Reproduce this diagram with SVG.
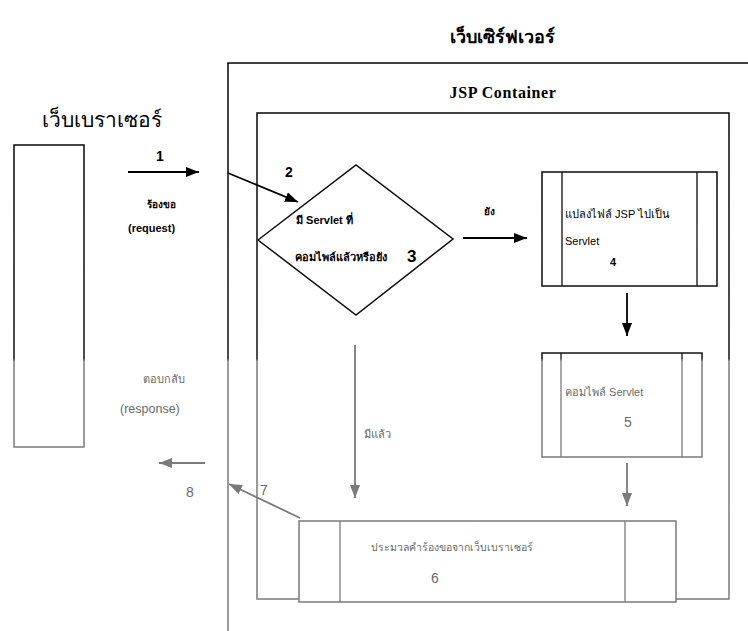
<svg xmlns="http://www.w3.org/2000/svg" width="748" height="631" viewBox="0 0 748 631">
<defs>
<linearGradient id="ink" gradientUnits="userSpaceOnUse" x1="0" y1="0" x2="0" y2="631">
<stop offset="0" stop-color="#000"/>
<stop offset="0.568" stop-color="#111"/>
<stop offset="0.573" stop-color="#7a7a7a"/>
<stop offset="1" stop-color="#7a7a7a"/>
</linearGradient>
<marker id="ah" markerUnits="userSpaceOnUse" markerWidth="14" markerHeight="12" refX="13" refY="5" orient="auto">
<path d="M0,0 L13,5 L0,10 z" fill="#000"/>
</marker>
<marker id="ahg" markerUnits="userSpaceOnUse" markerWidth="14" markerHeight="12" refX="13" refY="5" orient="auto">
<path d="M0,0 L13,5 L0,10 z" fill="#7a7a7a"/>
</marker>
</defs>
<style>
.box{fill:none;stroke:url(#ink);stroke-width:1.5}
.ln{fill:none;stroke:url(#ink);stroke-width:1.3}
.ar{fill:none;stroke:#000;stroke-width:1.8;marker-end:url(#ah)}
.arg{fill:none;stroke:#7a7a7a;stroke-width:1.8;marker-end:url(#ahg)}
.t{font-family:"Liberation Sans","Noto Sans","DejaVu Sans",sans-serif;fill:#000}
.tg{font-family:"Liberation Sans","Noto Sans","DejaVu Sans",sans-serif;fill:#6a6a6a}
.sm{font-size:11px}
.b{font-weight:bold}
.serif{font-family:"Liberation Serif",serif;font-weight:bold;font-size:16px;fill:#000}
</style>
<rect width="748" height="631" fill="#fff"/>

<g id="server">
<path class="box" d="M228,631 V63 H748"/>
<text class="t b" font-size="18" x="502" y="43" text-anchor="middle">เว็บเซิร์ฟเวอร์</text>
</g>

<g id="container">
<rect class="box" x="257" y="113" width="472" height="486"/>
<text class="serif" x="503" y="98" text-anchor="middle" letter-spacing="0.6">JSP  Container</text>
</g>

<g id="browser">
<rect class="box" x="14" y="145" width="70" height="302"/>
<text class="t" font-size="21" x="42" y="127">เว็บเบราเซอร์</text>
</g>

<g id="decision">
<polygon class="box" points="258,240 356,165 453,239 356,315"/>
<text class="t sm b" x="296" y="224">มี Servlet ที่</text>
<text class="t sm b" x="295" y="261">คอมไพล์แล้วหรือยัง</text>
<text class="t b" font-size="17" x="407" y="262">3</text>
</g>

<g id="convert">
<rect class="box" x="542" y="172" width="175" height="114"/>
<line class="ln" x1="562" y1="172" x2="562" y2="286"/>
<line class="ln" x1="697" y1="172" x2="697" y2="286"/>
<text class="t sm" x="565" y="218">แปลงไฟล์ JSP ไปเป็น</text>
<text class="t sm" x="565" y="245">Servlet</text>
<text class="t sm b" x="610" y="266">4</text>
</g>

<g id="compile">
<rect class="box" x="542" y="353" width="160" height="104"/>
<line class="ln" x1="561" y1="353" x2="561" y2="457"/>
<line class="ln" x1="682" y1="353" x2="682" y2="457"/>
<text class="tg sm" x="565" y="396">คอมไพล์ Servlet</text>
<text class="tg" font-size="14" x="624" y="427">5</text>
</g>

<g id="process">
<rect class="box" x="299" y="521" width="377" height="81" style="fill:#fff"/>
<line class="ln" x1="340" y1="521" x2="340" y2="602"/>
<line class="ln" x1="625" y1="521" x2="625" y2="602"/>
<text class="tg" font-size="10.5" x="452" y="551" text-anchor="middle">ประมวลคำร้องขอจากเว็บเบราเซอร์</text>
<text class="tg" font-size="14" x="431" y="583">6</text>
</g>

<g id="connectors">
<line class="ar" x1="128" y1="172" x2="199" y2="172"/>
<line class="ar" x1="228" y1="173" x2="298" y2="202"/>
<line class="ar" x1="463" y1="238" x2="527" y2="238"/>
<line class="ar" x1="627" y1="293" x2="627" y2="336"/>
<line class="arg" x1="627" y1="463" x2="627" y2="506"/>
<line class="arg" x1="355" y1="345" x2="355" y2="498"/>
<line class="arg" x1="300" y1="518" x2="229" y2="484"/>
<line class="arg" x1="205" y1="463" x2="159" y2="463"/>
</g>

<g id="labels">
<text class="t b" font-size="14" x="156" y="161">1</text>
<text class="t b" font-size="10" x="147" y="208">ร้องขอ</text>
<text class="t sm b" x="128" y="232">(request)</text>
<text class="t b" font-size="14" x="285" y="177">2</text>
<text class="t b" font-size="10" x="484" y="215">ยัง</text>
<text class="tg sm" x="364" y="438">มีแล้ว</text>
<text class="tg sm" x="143" y="383">ตอบกลับ</text>
<text class="tg" font-size="12.5" x="120" y="413">(response)</text>
<text class="tg" font-size="14" x="186" y="497">8</text>
<text class="tg" font-size="14" x="260" y="495">7</text>
</g>
</svg>
